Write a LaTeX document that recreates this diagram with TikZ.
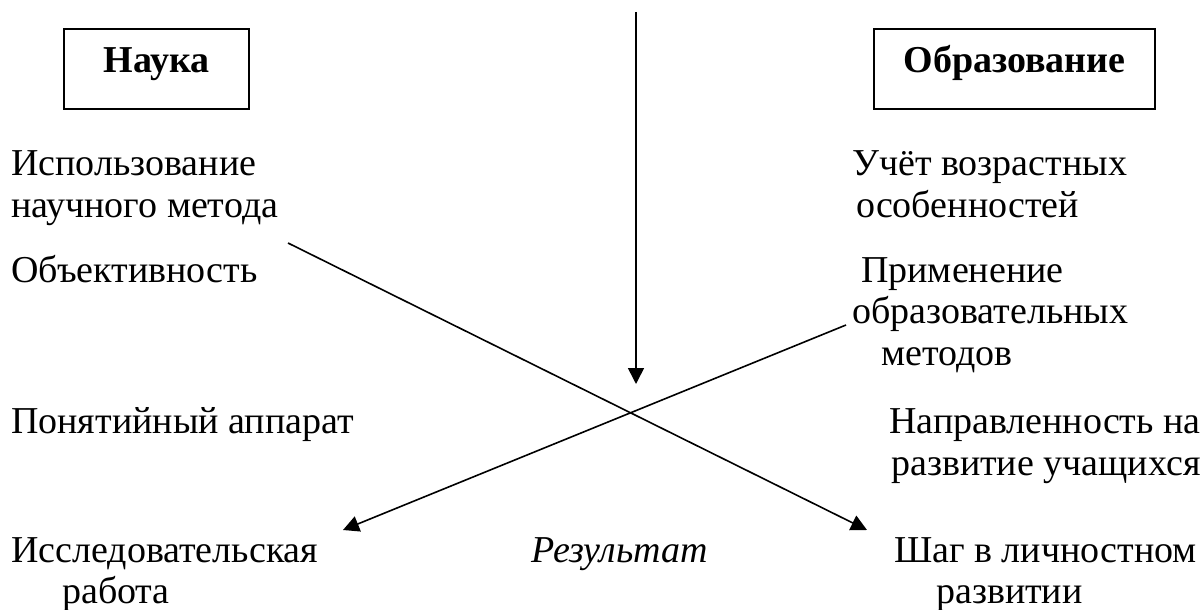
\documentclass[tikz,border=0pt]{standalone}
\usepackage{fontspec}
\setmainfont{Liberation Serif}
\usetikzlibrary{arrows.meta}
\begin{document}
\begin{tikzpicture}[x=1pt,y=-1pt,
  txt/.style={anchor=base west, inner sep=0pt, font=\fontsize{38}{42}\selectfont},
  frame/.style={draw, line width=1.5pt, inner sep=0pt, minimum height=80pt,
    text height=28pt, text depth=20pt, font=\fontsize{38}{42}\selectfont\bfseries},
  arr/.style={line width=1.6pt, -{Triangle[length=16pt,width=16pt]}}]
\useasboundingbox (0,0) rectangle (1200,610);

% title boxes
\node[frame, minimum width=185pt] (nauka) at (156.5,69) {Наука};
\node[frame, minimum width=281pt] (obr) at (1014.5,69) {Образование};

% left column
\node[txt] (l1a) at (11,175) {Использование};
\node[txt] (l1b) at (11,217) {научного метода};
\node[txt] (l2)  at (11,282) {Объективность};
\node[txt] (l3)  at (11,433) {Понятийный аппарат};
\node[txt] (l4a) at (11,562) {Исследовательская};
\node[txt] (l4b) at (62,603) {работа};

% middle
\node[txt, font=\fontsize{38}{42}\selectfont\itshape] (res) at (531,562) {Результат};

% right column
\node[txt] (r1a) at (852,175) {Учёт возрастных};
\node[txt] (r1b) at (856,217) {особенностей};
\node[txt] (r2a) at (861,282) {Применение};
\node[txt] (r2b) at (852,323) {образовательных};
\node[txt] (r2c) at (881,365) {методов};
\node[txt] (r3a) at (889,433) {Направленность на};
\node[txt] (r3b) at (891,475) {развитие учащихся};
\node[txt] (r4a) at (894,562) {Шаг в личностном};
\node[txt] (r4b) at (936,603) {развитии};

% connectors
\coordinate (s1) at (288,243);
\coordinate (t1) at (867,530);
\coordinate (s2) at (846,325);
\coordinate (t2) at (343,530);
\coordinate (s3) at (636,12);
\coordinate (t3) at (636,384);
\draw[arr] (s1) -- (t1);
\draw[arr] (s2) -- (t2);
\draw[arr] (s3) -- (t3);
\end{tikzpicture}
\end{document}
